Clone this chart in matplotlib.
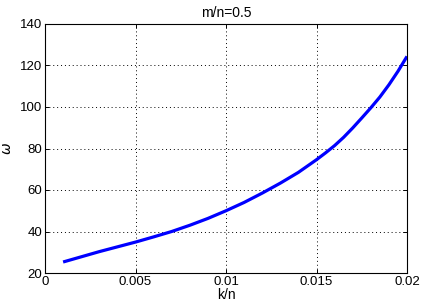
import numpy as np
import matplotlib
matplotlib.use('Agg')
import matplotlib.pyplot as plt

# values
k_n = [0.001, 0.002, 0.003, 0.004, 0.005, 0.006, 0.007, 0.008, 0.009, 0.010,
       0.011, 0.012, 0.013, 0.014, 0.015, 0.0155, 0.016, 0.0165, 0.017,
       0.0175, 0.018, 0.0185, 0.019, 0.0195, 0.020]
omega = [25.3, 27.8, 30.3, 32.6, 34.9, 37.4, 40.0, 43.0, 46.3, 50.0,
         54.0, 58.5, 63.3, 68.5, 74.6, 77.9, 81.4, 85.4, 89.9,
         94.7, 99.6, 104.8, 110.7, 117.2, 124.4]

xticks = [0, 0.005, 0.01, 0.015, 0.02]
xticklabels = ['0', '0.005', '0.01', '0.015', '0.02']
yticks = [20, 40, 60, 80, 100, 120, 140]

plt.rcParams['font.family'] = ['Liberation Sans', 'DejaVu Sans']
plt.rcParams['font.size'] = 9.5
plt.rcParams['mathtext.fontset'] = 'dejavusans'

W, H = 422, 306
fig = plt.figure(figsize=(W / 100, H / 100), dpi=100)
ax = fig.add_axes([45 / W, (H - 273) / H, 362 / W, 249 / H])

ax.plot(k_n, omega, color='#0000ff', lw=2.3, solid_capstyle='butt',
        solid_joinstyle='round')

ax.set_xlim(0, 0.02)
ax.set_ylim(20, 140)
ax.set_xticks(xticks)
ax.set_xticklabels(xticklabels)
ax.set_yticks(yticks)

ax.grid(True, color='black', linestyle=(0, (1, 3)), linewidth=0.7)
ax.tick_params(direction='in', length=3, width=0.7, top=True, right=True,
               pad=2, labelsize=9.5)
for s in ax.spines.values():
    s.set_linewidth(0.8)

ax.set_title('m/n=0.5', fontsize=10, pad=5)
ax.set_xlabel('k/n', fontsize=10, labelpad=0)
ax.set_ylabel(r'$\omega$', fontsize=10)
ax.yaxis.set_label_coords(-0.085, 0.5)

fig.savefig('out.png', dpi=100)
